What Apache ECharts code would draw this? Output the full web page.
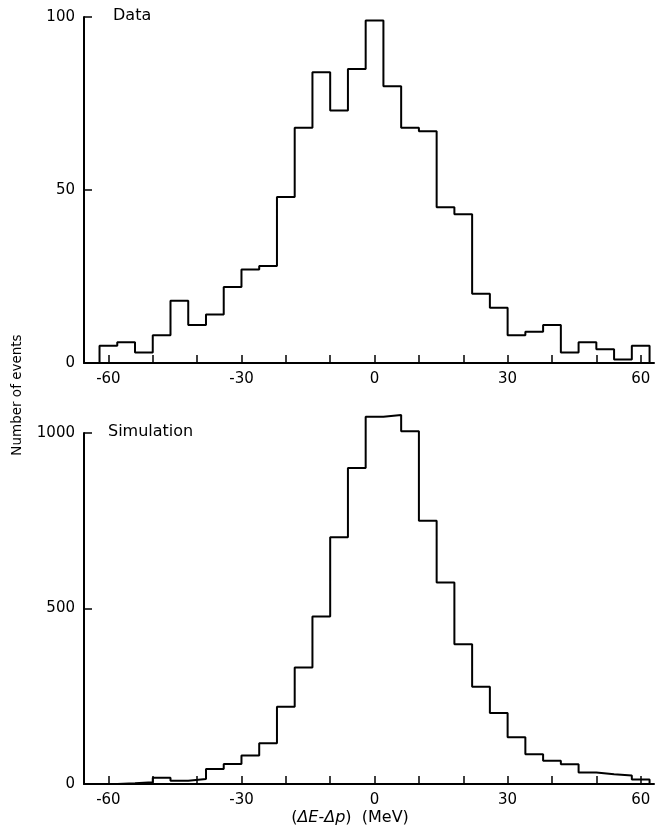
<!DOCTYPE html>
<html><head><meta charset="utf-8">
<script src="https://cdn.jsdelivr.net/npm/echarts@6/dist/echarts.min.js"></script>
<style>html,body{margin:0;padding:0;background:#fff}#c{width:655px;height:828px}</style>
</head><body><div id="c"></div>
<script>
const binCenters = [-60,-56,-52,-48,-44,-40,-36,-32,-28,-24,-20,-16,-12,-8,-4,0,4,8,12,16,20,24,28,32,36,40,44,48,52,56,60];
const binWidth = 4;
const dataCounts = [5,6,3,8,18,11,14,22,27,28,48,68,84,73,85,99,80,68,67,45,43,20,16,8,9,11,3,6,4,1,5];
const simCounts = [0,2,5,18,9,14,43,57,81,116,220,332,477,703,900,1046,1051,1005,750,574,398,277,202,133,85,66,56,33,28,24,13];
const xTickValues = [-60,-50,-40,-30,-20,-10,0,10,20,30,40,50,60];
const xLabelValues = [-60,-30,0,30,60];
const dataYTicks = [0,50,100];
const simYTicks = [0,500,1000];
const panelTitles = ['Data','Simulation'];
const yAxisTitle = 'Number of events';

function stepPoints(counts){
  const pts = [[binCenters[0]-binWidth/2, 0]];
  counts.forEach((v,i)=>pts.push([binCenters[i]-binWidth/2, v]));
  const lastEdge = binCenters[binCenters.length-1]+binWidth/2;
  pts.push([lastEdge, counts[counts.length-1]]);
  pts.push([lastEdge, 0]);
  return pts;
}
const FONT = 'DejaVu Sans';
function xAxisCfg(idx){
  return {
    type:'value', gridIndex:idx, min:-65.5, max:63,
    axisLine:{show:true, onZero:false, lineStyle:{color:'#000', width:2}},
    axisTick:{show:true, inside:true, length:8, customValues:xTickValues, lineStyle:{color:'#000', width:1.5}},
    axisLabel:{show:true, customValues:xLabelValues, color:'#000', fontFamily:FONT, fontSize:15, margin:9,
      formatter:v=>String(v)},
    splitLine:{show:false}
  };
}
function yAxisCfg(idx, ticks){
  return {
    type:'value', gridIndex:idx, min:ticks[0], max:ticks[ticks.length-1],
    axisLine:{show:true, onZero:false, lineStyle:{color:'#000', width:2}},
    axisTick:{show:true, inside:true, length:8, customValues:ticks, lineStyle:{color:'#000', width:1.5}},
    axisLabel:{show:true, customValues:ticks, color:'#000', fontFamily:FONT, fontSize:15, margin:9,
      formatter:v=>String(v)},
    splitLine:{show:false}
  };
}
const chart = echarts.init(document.getElementById('c'), null, {renderer:'canvas'});
chart.setOption({
  backgroundColor:'#fff',
  animation:false,
  grid:[
    {left:84, top:17, width:570, height:346},
    {left:84, top:433, width:570, height:351}
  ],
  xAxis:[xAxisCfg(0), xAxisCfg(1)],
  yAxis:[yAxisCfg(0,dataYTicks), yAxisCfg(1,simYTicks)],
  series:[
    {type:'line', xAxisIndex:0, yAxisIndex:0, step:'end', showSymbol:false, clip:false, data:stepPoints(dataCounts),
     lineStyle:{color:'#000', width:2}},
    {type:'line', xAxisIndex:1, yAxisIndex:1, step:'end', showSymbol:false, clip:false, data:stepPoints(simCounts),
     lineStyle:{color:'#000', width:2}}
  ],
  graphic:[
    {type:'text', left:113, top:8, style:{text:panelTitles[0], fill:'#000', font:'16px "DejaVu Sans"'}},
    {type:'text', left:108, top:424, style:{text:panelTitles[1], fill:'#000', font:'16px "DejaVu Sans"'}},
    {type:'text', x:17, y:395, rotation:Math.PI/2,
     style:{text:yAxisTitle, fill:'#000', font:'13.5px "DejaVu Sans"', align:'center', verticalAlign:'middle'}},
    {type:'text', x:350, y:818,
     style:{text:'({i|\u0394E}-{i|\u0394p})  (MeV)', fill:'#000', font:'16px "DejaVu Sans"', align:'center', verticalAlign:'middle',
       rich:{i:{fontStyle:'italic', fontFamily:'DejaVu Sans', fontSize:16, fill:'#000'}}}}
  ]
});
</script></body></html>
